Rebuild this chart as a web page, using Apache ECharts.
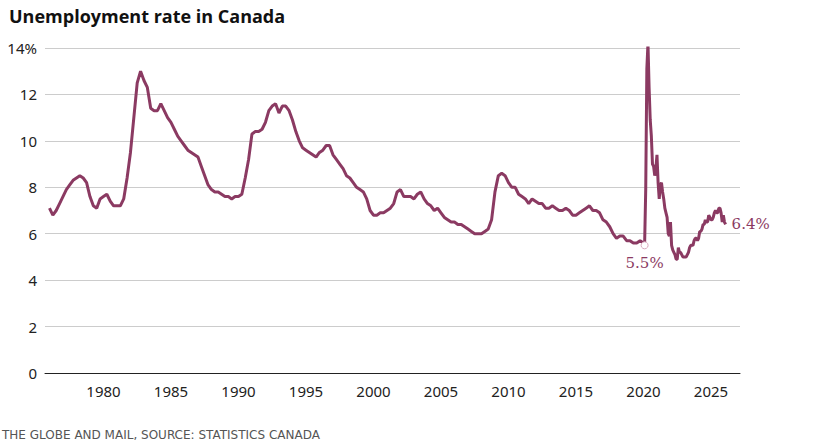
<!DOCTYPE html>
<html><head><meta charset="utf-8">
<script src="https://cdn.jsdelivr.net/npm/echarts@6/dist/echarts.min.js"></script>
<style>body{margin:0;background:#fff}#c{width:834px;height:446px}</style>
</head><body><div id="c"></div>
<script>
// quarterly readings 1976-2019 (Jan, Apr, Jul, Oct), monthly from 2020
var quarterly = [
  7.1,6.8,7.0,7.3, 7.6,7.9,8.1,8.3, 8.4,8.5,8.4,8.2, 7.6,7.2,7.1,7.5,
  7.6,7.7,7.4,7.2, 7.2,7.2,7.5,8.4, 9.5,11.0,12.5,13.0, 12.6,12.3,11.4,11.3,
  11.3,11.6,11.3,11.0, 10.8,10.5,10.2,10.0, 9.8,9.6,9.5,9.4, 9.3,8.9,8.5,8.1,
  7.9,7.8,7.8,7.7, 7.6,7.6,7.5,7.6, 7.6,7.7,8.4,9.2, 10.3,10.4,10.4,10.5,
  10.8,11.3,11.5,11.6, 11.2,11.5,11.5,11.3, 10.9,10.4,10.0,9.7, 9.6,9.5,9.4,9.3,
  9.5,9.6,9.8,9.8, 9.4,9.2,9.0,8.8, 8.5,8.4,8.2,8.0, 7.9,7.8,7.5,7.0,
  6.8,6.8,6.9,6.9, 7.0,7.1,7.3,7.8, 7.9,7.6,7.6,7.6, 7.5,7.7,7.8,7.5,
  7.3,7.2,7.0,7.1, 6.9,6.7,6.6,6.5, 6.5,6.4,6.4,6.3, 6.2,6.1,6.0,6.0,
  6.0,6.1,6.2,6.6, 7.8,8.5,8.6,8.5, 8.2,8.0,8.0,7.7, 7.6,7.5,7.3,7.5,
  7.4,7.3,7.3,7.1, 7.1,7.2,7.1,7.0, 7.0,7.1,7.0,6.8, 6.8,6.9,7.0,7.1,
  7.2,7.0,7.0,6.9, 6.6,6.5,6.3,6.0, 5.8,5.9,5.9,5.7, 5.7,5.6,5.6,5.7
];
var monthly = [
  5.6,5.5,7.9,13.1,14.2,12.3,10.9,10.2,9.0,8.9,8.5,8.8,
  9.4,8.2,7.5,8.1,8.2,7.8,7.5,7.1,6.9,6.7,6.0,5.9,
  6.5,5.5,5.3,5.2,5.1,4.9,4.9,5.4,5.2,5.2,5.1,5.0,
  5.0,5.0,5.0,5.1,5.2,5.4,5.5,5.5,5.5,5.7,5.8,5.8,
  5.7,5.8,6.1,6.1,6.2,6.4,6.4,6.6,6.5,6.5,6.8,6.7,
  6.6,6.6,6.7,6.9,7.0,6.9,6.9,7.1,7.1,6.9,6.5,6.8,
  6.5,6.4
];
var xTicks = [1980,1985,1990,1995,2000,2005,2010,2015,2020,2025];

var data = [];
quarterly.forEach(function(v, i) { data.push([1976 + i * 0.25, v]); });
monthly.forEach(function(v, i) { data.push([2020 + i / 12, v]); });
var low = [2020 + 1 / 12, 5.5];

var color = '#8b3a62';
var chart = echarts.init(document.getElementById('c'), null, { renderer: 'svg' });
chart.setOption({
  animation: false,
  title: {
    text: 'Unemployment rate in Canada', left: 4, top: 2,
    textStyle: { fontFamily: 'Open Sans', fontWeight: 'bold', fontSize: 18, color: '#111' }
  },
  graphic: [{
    type: 'text', left: 2, top: 429,
    style: { text: 'THE GLOBE AND MAIL, SOURCE: STATISTICS CANADA', fontFamily: 'DejaVu Sans', fontSize: 12, fill: '#555' }
  }],
  grid: { left: 45, right: 94, top: 48, bottom: 73 },
  xAxis: {
    type: 'value', min: 1975.67, max: 2027.15,
    axisLine: { lineStyle: { color: '#222' } },
    axisTick: { show: false },
    splitLine: { show: false },
    axisLabel: {
      fontFamily: 'Noto Sans', fontSize: 15, color: '#222', margin: 10,
      customValues: xTicks,
      formatter: function(v) { return String(v); }
    }
  },
  yAxis: {
    type: 'value', min: 0, max: 14, interval: 2,
    axisLine: { show: false }, axisTick: { show: false },
    splitLine: { lineStyle: { color: '#ccc' } },
    axisLabel: {
      fontFamily: 'Noto Sans', fontSize: 15, color: '#222', margin: 8,
      formatter: function(v) { return v === 14 ? '14%' : String(v); }
    }
  },
  series: [{
    type: 'line', data: data, showSymbol: false, smooth: false,
    lineStyle: { color: color, width: 3 },
    endLabel: {
      show: true, formatter: '6.4%', distance: 6,
      fontFamily: 'DejaVu Serif', fontSize: 15, color: color
    },
    markPoint: {
      symbol: 'circle', symbolSize: 7,
      itemStyle: { color: '#fff', borderColor: '#d9a9bd', borderWidth: 1 },
      label: { show: true, position: 'bottom', distance: 6, formatter: '5.5%', fontFamily: 'DejaVu Serif', fontSize: 15, color: color },
      data: [{ coord: low }]
    }
  }]
});
</script></body></html>
